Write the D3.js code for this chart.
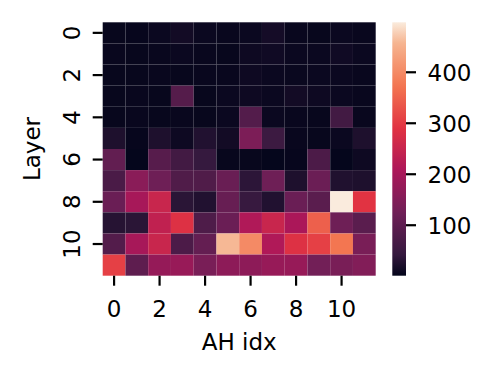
<!DOCTYPE html>
<html><head><meta charset="utf-8">
<script src="https://cdn.jsdelivr.net/npm/d3@7"></script>
<style>body{margin:0;background:#fff}svg{display:block}text{font-family:"DejaVu Sans",sans-serif;fill:#000}</style>
</head><body><svg id="c" width="496" height="380"></svg>
<script>
const layers = d3.range(12);
const heads = d3.range(12);
const xTicks = [0, 2, 4, 6, 8, 10];
const yTicks = [0, 2, 4, 6, 8, 10];
const cbarTicks = [100, 200, 300, 400];
const vmin = 1, vmax = 498;
const values = [
  [5, 4, 8, 14, 8, 6, 8, 16, 6, 5, 8, 6],
  [6, 5, 6, 8, 6, 5, 10, 12, 8, 8, 12, 8],
  [5, 5, 6, 5, 6, 6, 10, 8, 7, 8, 8, 6],
  [5, 6, 5, 87, 5, 8, 10, 8, 14, 10, 8, 6],
  [5, 6, 5, 6, 5, 8, 85, 8, 6, 5, 60, 6],
  [23, 4, 23, 10, 26, 14, 142, 52, 6, 5, 8, 23],
  [105, 3, 90, 60, 42, 5, 5, 3, 4, 75, 3, 10],
  [72, 160, 122, 80, 80, 115, 35, 122, 23, 118, 25, 23],
  [117, 200, 251, 33, 26, 112, 45, 26, 117, 95, 498, 290],
  [30, 33, 239, 285, 78, 117, 213, 251, 205, 347, 122, 95],
  [85, 200, 251, 75, 108, 460, 401, 213, 285, 307, 374, 138],
  [307, 100, 175, 180, 138, 165, 165, 178, 178, 128, 138, 150]
];
const rocketStops = [0, 0.083, 0.25, 0.417, 0.583, 0.75, 0.917, 1];
const rocketColors = ["#03051a", "#35193e", "#701f57", "#ad1759", "#e13342", "#f37651", "#f6b48f", "#faebdd"];

const cmap = d3.scaleLinear().domain(rocketStops).range(rocketColors).interpolate(d3.interpolateRgb).clamp(true);
const norm = d3.scaleLinear().domain([vmin, vmax]).range([0, 1]).clamp(true);
const color = v => cmap(norm(v));

const svg = d3.select("#c");
svg.append("rect").attr("width", 496).attr("height", 380).attr("fill", "#fff");

const L = 102.7, R = 375.7, T = 22.3, B = 275.7;
const x = d3.scaleBand().domain(heads).range([L, R]);
const y = d3.scaleBand().domain(layers).range([T, B]);
const FS = 23;

const cells = [];
layers.forEach(r => heads.forEach(c => cells.push({r, c, v: values[r][c]})));
svg.append("g").selectAll("rect").data(cells).join("rect")
  .attr("x", d => x(d.c)).attr("y", d => y(d.r))
  .attr("width", x.bandwidth()).attr("height", y.bandwidth())
  .attr("fill", d => color(d.v));

// x axis
const gx = svg.append("g");
xTicks.forEach(t => {
  const cx = x(t) + x.bandwidth() / 2;
  gx.append("line").attr("x1", cx).attr("x2", cx).attr("y1", B).attr("y2", B + 10)
    .attr("stroke", "#000").attr("stroke-width", 2.2);
  gx.append("text").attr("x", cx).attr("y", 316.5).attr("text-anchor", "middle")
    .attr("font-size", FS).text(t);
});
svg.append("text").attr("x", (L + R) / 2).attr("y", 350).attr("text-anchor", "middle")
  .attr("font-size", FS).text("AH idx");

// y axis
const gy = svg.append("g");
yTicks.forEach(t => {
  const cy = y(t) + y.bandwidth() / 2;
  gy.append("line").attr("x1", L - 10).attr("x2", L).attr("y1", cy).attr("y2", cy)
    .attr("stroke", "#000").attr("stroke-width", 2.2);
  gy.append("text").attr("transform", `translate(80,${cy}) rotate(-90)`)
    .attr("text-anchor", "middle").attr("font-size", FS).text(t);
});
svg.append("text").attr("transform", `translate(39.5,${(T + B) / 2}) rotate(-90)`)
  .attr("text-anchor", "middle").attr("font-size", FS).text("Layer");

// colorbar
const CL = 392.3, CR = 406;
const defs = svg.append("defs");
const grad = defs.append("linearGradient").attr("id", "cb").attr("x1", 0).attr("y1", 1).attr("x2", 0).attr("y2", 0);
d3.range(0, 1.0001, 0.02).forEach(t => grad.append("stop").attr("offset", t).attr("stop-color", cmap(t)));
svg.append("rect").attr("x", CL).attr("y", T).attr("width", CR - CL).attr("height", B - T).attr("fill", "url(#cb)");
const cy = d3.scaleLinear().domain([vmin, vmax]).range([B, T]);
cbarTicks.forEach(t => {
  const yy = cy(t);
  svg.append("line").attr("x1", CR).attr("x2", CR + 10).attr("y1", yy).attr("y2", yy)
    .attr("stroke", "#000").attr("stroke-width", 2.2);
  svg.append("text").attr("x", 427.5).attr("y", yy + 8.5).attr("font-size", FS).text(t);
});
</script></body></html>
